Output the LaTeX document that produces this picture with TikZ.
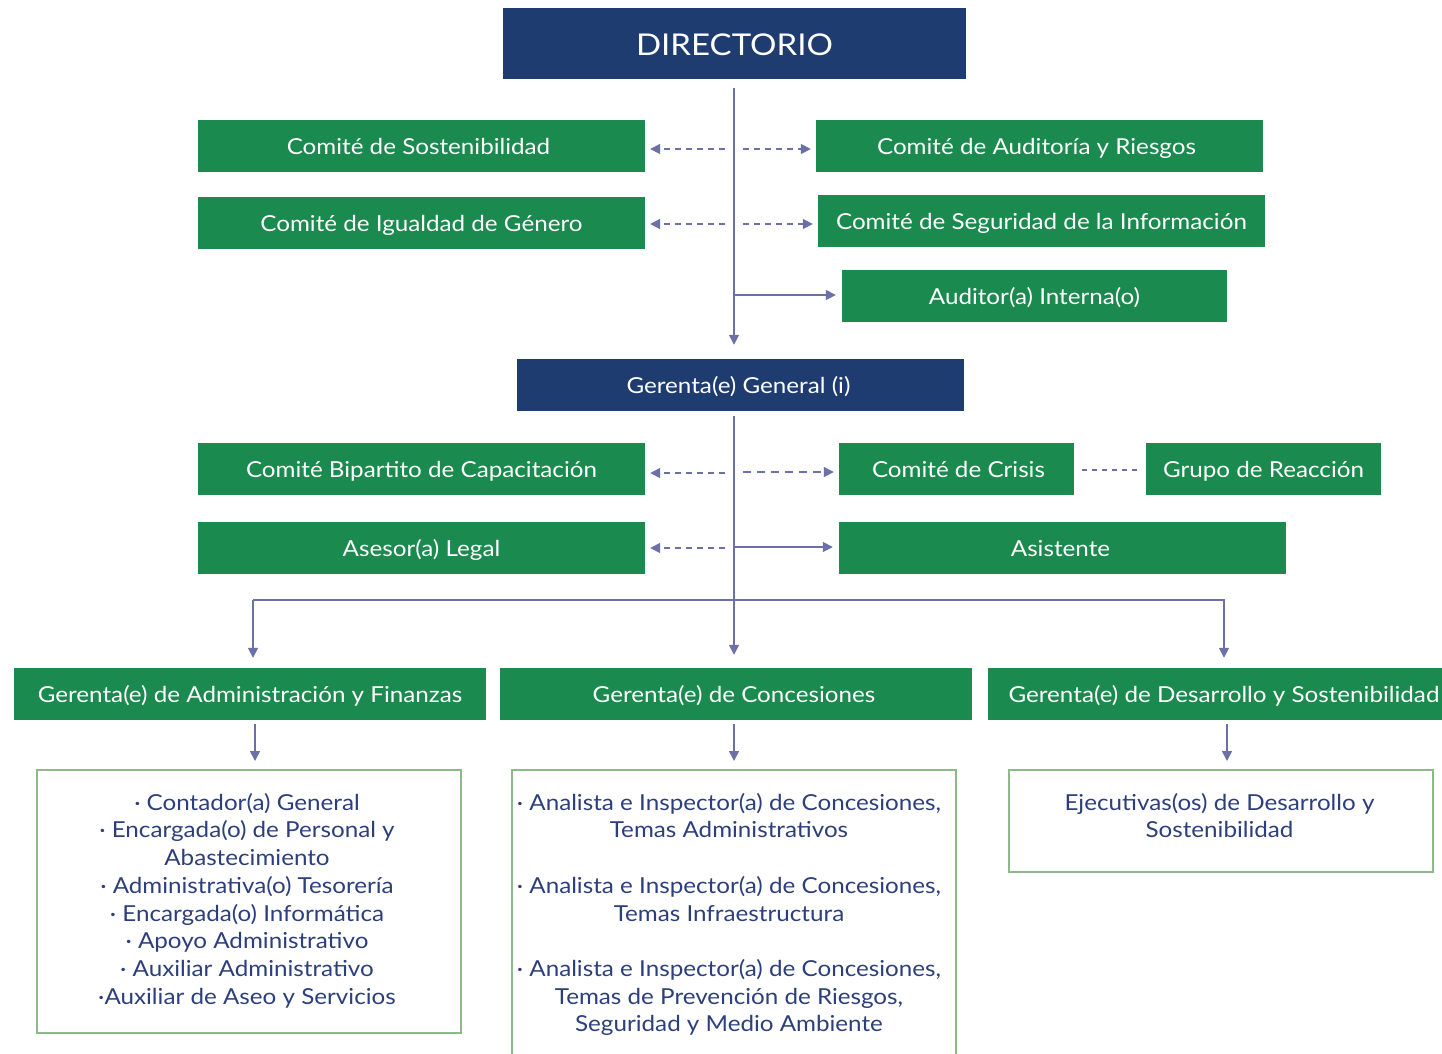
\documentclass[tikz,border=0pt]{standalone}
\usepackage{fontspec}
\setmainfont{Lato}[FakeStretch=1.1]
\usetikzlibrary{arrows.meta}
\definecolor{navy}{HTML}{1F3C70}
\definecolor{grn}{HTML}{1A8A4F}
\definecolor{lnc}{HTML}{6B71A6}
\definecolor{txt}{HTML}{2C3F7C}
\definecolor{bgr}{HTML}{8DBA88}
\begin{document}
\begin{tikzpicture}[x=1pt,y=-1pt,
  box/.style={rectangle, inner sep=0pt, text=white, font=\fontsize{22}{26}\selectfont, text height=20pt, text depth=4pt},
  gbox/.style={box, fill=grn, minimum height=52pt},
  nbox/.style={box, fill=navy},
  conn/.style={draw=lnc, line width=1.6pt},
  arr/.style={conn, -{Triangle[length=10pt,width=10pt]}},
  darr/.style={arr, dash pattern=on 6pt off 5pt, shorten <=9pt, shorten >=5pt},
  sarr/.style={arr, shorten >=6pt},
  lbox/.style={rectangle, draw=bgr, line width=2pt, inner sep=0pt},
  ltxt/.style={text=txt, align=center, font=\fontsize{22}{27.7}\selectfont, inner sep=0pt}
]
\useasboundingbox (0,0) rectangle (1442,1053);
\clip (0,0) rectangle (1442,1053);

% top
\node[nbox, minimum width=463pt, minimum height=71pt, font=\fontsize{30}{34}\selectfont, text height=27pt, text depth=4pt] (dir) at (734.5,43.5) {DIRECTORIO};

\node[gbox, minimum width=447pt] (sost) at (421.5,146) {\hspace*{-6pt}Comité de Sostenibilidad};
\node[gbox, minimum width=447pt] (aud) at (1039.5,146) {\hspace*{-6pt}Comité de Auditoría y Riesgos};
\node[gbox, minimum width=447pt] (igu) at (421.5,223) {Comité de Igualdad de Género};
\node[gbox, minimum width=447pt] (seg) at (1041.5,221) {Comité de Seguridad de la Información};
\node[gbox, minimum width=385pt] (ai) at (1034.5,296) {Auditor(a) Interna(o)};

\node[nbox, minimum width=447pt, minimum height=52pt] (gg) at (740.5,385) {\hspace*{-4pt}Gerenta(e) General (i)};

\node[gbox, minimum width=447pt] (bip) at (421.5,469) {Comité Bipartito de Capacitación};
\node[gbox, minimum width=235pt] (cri) at (956.5,469) {\hspace*{4pt}Comité de Crisis};
\node[gbox, minimum width=235pt] (gru) at (1263.5,469) {Grupo de Reacción};
\node[gbox, minimum width=447pt] (ase) at (421.5,548) {Asesor(a) Legal};
\node[gbox, minimum width=447pt] (asi) at (1062.5,548) {\hspace*{-4pt}Asistente};

\node[gbox, minimum width=472pt] (gaf) at (250,694) {Gerenta(e) de Administración y Finanzas};
\node[gbox, minimum width=472pt] (gco) at (736,694) {\hspace*{-4pt}Gerenta(e) de Concesiones};
\node[gbox, minimum width=472pt] (gds) at (1224,694) {Gerenta(e) de Desarrollo y Sostenibilidad};

% lower boxes
\node[lbox, minimum width=424pt, minimum height=263pt] (b1) at (249,901.5) {};
\node[lbox, minimum width=444pt, minimum height=320pt] (b2) at (734,930) {};
\node[lbox, minimum width=424pt, minimum height=102pt] (b3) at (1221,821) {};

\node[ltxt, anchor=north] (t1) at (247,793) {· Contador(a) General\\ · Encargada(o) de Personal y\\ Abastecimiento\\ · Administrativa(o) Tesorería\\ · Encargada(o) Informática\\ · Apoyo Administrativo\\ · Auxiliar Administrativo\\ ·Auxiliar de Aseo y Servicios};
\node[ltxt, anchor=north] (t2) at (729,793) {· Analista e Inspector(a) de Concesiones,\\ Temas Administrativos\\[27.7pt] · Analista e Inspector(a) de Concesiones,\\ Temas Infraestructura\\[27.7pt] · Analista e Inspector(a) de Concesiones,\\ Temas de Prevención de Riesgos,\\ Seguridad y Medio Ambiente};
\node[ltxt, anchor=north] (t3) at (1219.5,793) {Ejecutivas(os) de Desarrollo y\\ Sostenibilidad};

% trunk coordinates
\coordinate (d0) at (734,88);
\coordinate (d1) at (734,416);
\coordinate (bus) at (734,600);

% trunk 1
\draw[arr, shorten >=14pt] (d0) -- (d0 |- gg.north);
\draw[darr] (d0 |- 0,149) -- (sost.east |- 0,149);
\draw[darr] (d0 |- 0,149) -- (aud.west |- 0,149);
\draw[darr] (d0 |- 0,224) -- (igu.east |- 0,224);
\draw[darr] (d0 |- 0,224) -- (seg.west |- 0,224);
\draw[sarr] (d0 |- 0,295) -- (ai.west |- 0,295);

% trunk 2
\draw[conn] (d1) -- (bus);
\draw[darr] (d1 |- 0,473) -- (bip.east |- 0,473);
\draw[darr, dash pattern=on 8pt off 6pt] (d1 |- 0,472) -- (cri.west |- 0,472);
\draw[conn, dash pattern=on 5pt off 5pt, shorten <=8pt, shorten >=8pt] (cri.east |- 0,470) -- (gru.west |- 0,470);
\draw[darr] (d1 |- 0,548) -- (ase.east |- 0,548);
\draw[sarr] (d1 |- 0,547) -- (asi.west |- 0,547);

% bus
\draw[arr, shorten >=10pt] (253,600) -- (253,600 |- gaf.north);
\draw[arr, shorten >=13pt] (bus) -- (bus |- gco.north);
\draw[arr, shorten >=10pt] (253,600) -- (1224,600) -- (1224,600 |- gds.north);

% down to lower boxes
\draw[arr, shorten <=4pt, shorten >=8pt] (255,720) -- (255,720 |- b1.north);
\draw[arr, shorten <=4pt, shorten >=8pt] (734,720) -- (734,720 |- b2.north);
\draw[arr, shorten <=4pt, shorten >=8pt] (1227,720) -- (1227,720 |- b3.north);
\end{tikzpicture}
\end{document}
